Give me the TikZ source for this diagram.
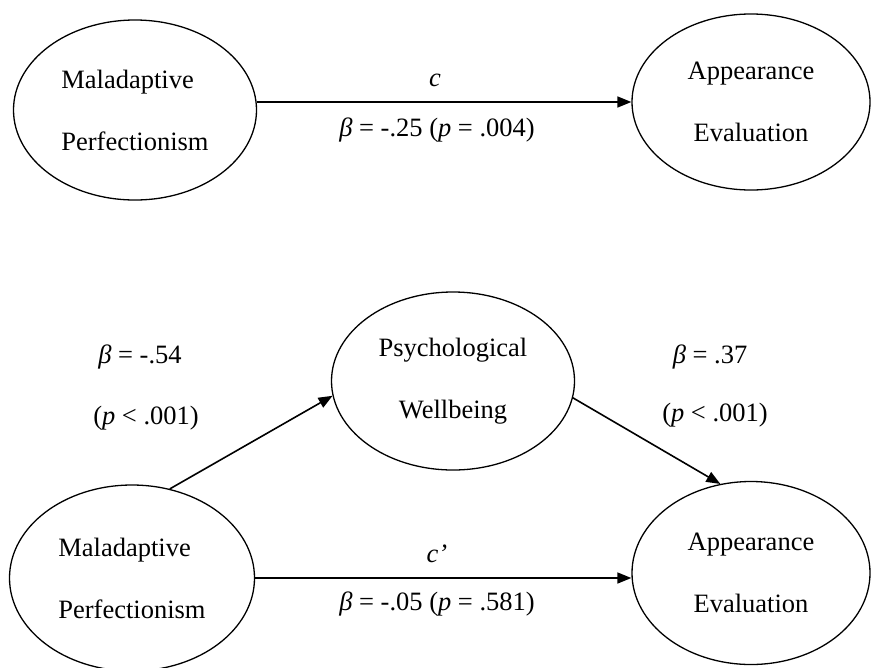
\documentclass[tikz,border=0pt]{standalone}
\usepackage{fontspec}
\setmainfont{Liberation Serif}
\usetikzlibrary{shapes.geometric,arrows.meta}
\begin{document}
\begin{tikzpicture}[x=1pt,y=-1pt,
  every node/.style={font=\fontsize{26.5}{62}\selectfont},
  var/.style={draw,ellipse,line width=1.3pt,inner sep=0pt,minimum width=243pt,minimum height=180pt},
  path/.style={line width=1.6pt,-{Triangle[length=14pt,width=11pt]}},
  lbl/.style={inner sep=0pt}]
\useasboundingbox (0,0) rectangle (872,667);
% top model
\node[var,align=left] (mp1) at (135,110) {Maladaptive\\Perfectionism};
\node[var,align=center,minimum width=238pt,minimum height=176pt] (ae1) at (751,102) {Appearance\\Evaluation};
\draw[path] (mp1.east |- ae1.west) -- (ae1.west);
\node[lbl] (c1) at (435,80) {\itshape c};
\node[lbl] (b1) at (437,130) {\itshape β\upshape{} = -.25 (\itshape p\upshape{} = .004)};
% bottom model
\node[var,align=center,minimum height=178pt] (pw) at (453,381) {Psychological\\Wellbeing};
\node[var,align=left,minimum width=245pt,minimum height=186pt] (mp2) at (132,578) {Maladaptive\\Perfectionism};
\node[var,align=center,minimum width=238pt,minimum height=183pt] (ae2) at (751,573) {Appearance\\Evaluation};
\draw[path] (mp2.67) -- (pw.187);
\draw[path] (pw.-8) -- (ae2.109);
\draw[path] (mp2.east) -- (mp2.east -| ae2.west);
\node[lbl] (c2) at (437,554) {\itshape c’};
\node[lbl] (b2) at (437,604) {\itshape β\upshape{} = -.05 (\itshape p\upshape{} = .581)};
\node[lbl] (b3) at (140,357) {\itshape β\upshape{} = -.54};
\node[lbl] (p3) at (146,418) {(\itshape p\upshape{} < .001)};
\node[lbl] (b4) at (710,357) {\itshape β\upshape{} = .37};
\node[lbl] (p4) at (715,415) {(\itshape p\upshape{} < .001)};
\end{tikzpicture}
\end{document}
